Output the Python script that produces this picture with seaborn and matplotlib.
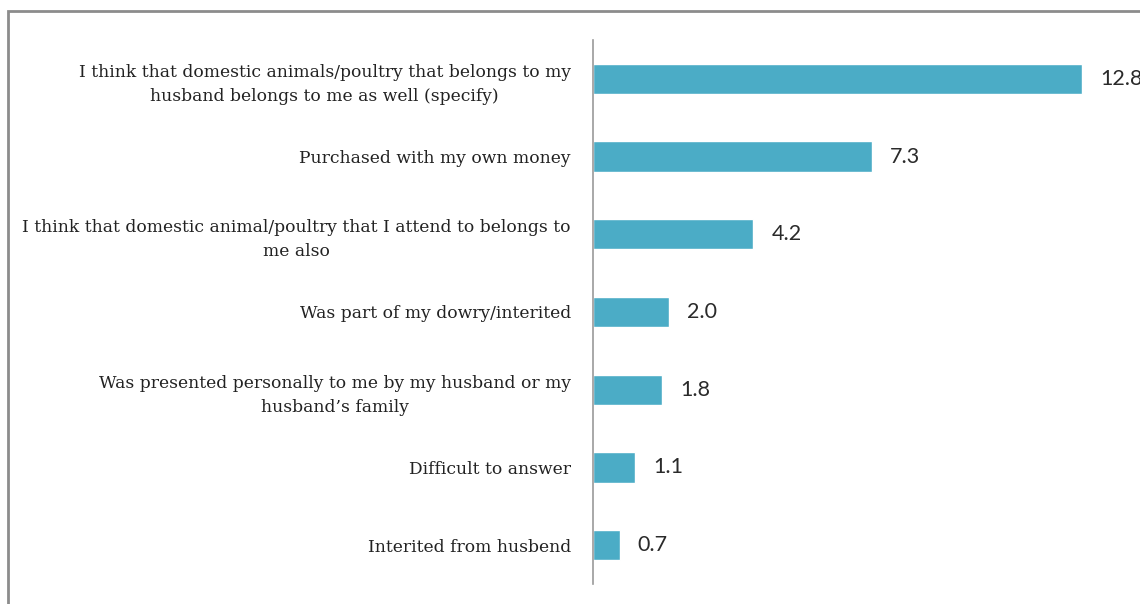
import matplotlib
matplotlib.use("Agg")
import matplotlib.pyplot as plt
from matplotlib.patches import Rectangle
import seaborn as sns
import pandas as pd

categories = [
    "I think that domestic animals/poultry that belongs to my\nhusband belongs to me as well (specify)",
    "Purchased with my own money",
    "I think that domestic animal/poultry that I attend to belongs to\nme also",
    "Was part of my dowry/interited",
    "Was presented personally to me by my husband or my\nhusband\u2019s family",
    "Difficult to answer",
    "Interited from husbend",
]
values = [12.8, 7.3, 4.2, 2.0, 1.8, 1.1, 0.7]

df = pd.DataFrame({"category": categories, "value": values})

sns.set_style("white")
fig = plt.figure(figsize=(11.4, 6.04), dpi=100)
ax = fig.add_axes([593 / 1140, 20 / 604, 1 - 593 / 1140, 544 / 604])

sns.barplot(data=df, x="value", y="category", orient="h", color="#4BACC6",
            width=0.39, saturation=1, ax=ax)

ax.set_xlim(0, (1140 - 593) / 38.2)
ax.set_ylim(6.5, -0.5)
ax.set_xlabel("")
ax.set_ylabel("")
ax.set_xticks([])

for side in ["top", "right", "bottom"]:
    ax.spines[side].set_visible(False)
ax.spines["left"].set_color("#9a9a9a")
ax.spines["left"].set_linewidth(1.2)

ax.tick_params(axis="y", length=0, pad=16)
for lab in ax.get_yticklabels():
    lab.set_fontfamily("DejaVu Serif")
    lab.set_fontsize(12.3)
    lab.set_color("#222222")
    lab.set_multialignment("center")
    lab.set_linespacing(1.55)

ax.bar_label(ax.containers[0], labels=[f"{v:.1f}" for v in values],
             padding=13, fontsize=15.5, family="Lato", color="#2a2a2a")

# outer frame
fig.add_artist(Rectangle((8 / 1140, -0.2), 1.2, 1.2 - 11 / 604,
                         transform=fig.transFigure, fill=False,
                         edgecolor="#8c8c8c", linewidth=2, clip_on=False))

fig.savefig("out.png", dpi=100)
